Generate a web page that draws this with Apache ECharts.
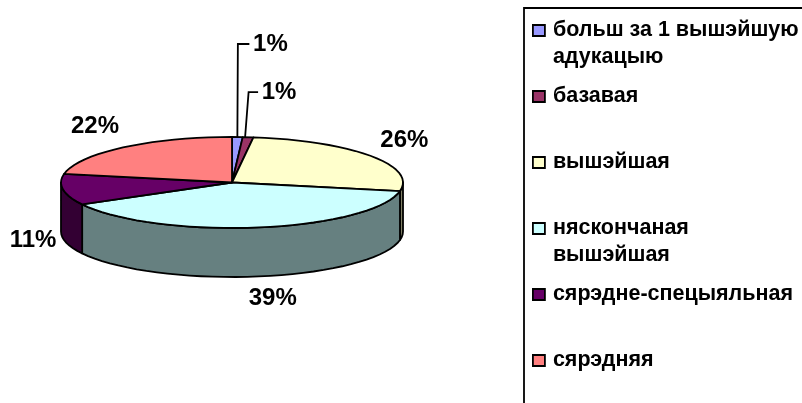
<!DOCTYPE html>
<html>
<head>
<meta charset="utf-8">
<title>Адукацыя</title>
<script src="https://cdn.jsdelivr.net/npm/echarts@6/dist/echarts.min.js"></script>
<style>
  html, body { margin: 0; padding: 0; background: #fff; overflow: hidden; }
  #chart { width: 802px; height: 403px; }
</style>
</head>
<body>
<div id="chart"></div>
<script>
// ----- data -----
const categories = [
    'больш за 1 вышэйшую\nадукацыю',
    'базавая',
    'вышэйшая',
    'няскончаная\nвышэйшая',
    'сярэдне-спецыяльная',
    'сярэдняя'
];
const shares = [1, 1, 26, 39, 11, 22];
const sliceColors = ['#9999FF', '#993366', '#FFFFCC', '#CCFFFF', '#660066', '#FF8080'];

// ----- geometry of the tilted disc -----
const cx = 232, cy = 182.5, rx = 171, ry = 45.5, depth = 49;
const total = shares.reduce((a, b) => a + b, 0);
const fontFamily = '"Liberation Sans", Arial, sans-serif';
// label offset from the rim point at the middle of each slice
const labelOffsets = [[33, -93], [31, -45], [34, -15], [14, 71], [-30, 51], [-28, -21]];
const hasLeader = [true, true, false, false, false, false];

// angle is clockwise from the top of the disc
function rimPoint(deg, drop) {
    const a = deg * Math.PI / 180;
    return [cx + rx * Math.sin(a), cy - ry * Math.cos(a) + (drop || 0)];
}

function arcPoints(from, to, drop) {
    const pts = [];
    const steps = Math.max(1, Math.ceil((to - from) / 4));
    for (let i = 0; i <= steps; i++) {
        pts.push(rimPoint(from + (to - from) * i / steps, drop));
    }
    return pts;
}

// side walls are the slice colour at half brightness
function wallColor(color) {
    const rgb = echarts.color.parse(color);
    return 'rgb(' + rgb.slice(0, 3).map(c => Math.round(c * 0.5)).join(',') + ')';
}

function renderSlice(index, params, api) {
    const before = shares.slice(0, index).reduce((a, b) => a + b, 0);
    const start = before / total * 360;
    const end = start + api.value(0) / total * 360;
    const mid = (start + end) / 2;
    const color = sliceColors[index];
    const children = [];

    // only the front half of the disc shows its wall
    const wallFrom = Math.max(start, 90);
    const wallTo = Math.min(end, 270);
    if (wallTo > wallFrom) {
        children.push({
            type: 'polygon',
            z2: 1,
            shape: { points: arcPoints(wallFrom, wallTo, 0).concat(arcPoints(wallFrom, wallTo, depth).reverse()) },
            style: { fill: wallColor(color), stroke: '#000', lineWidth: 1.8, lineJoin: 'round' }
        });
    }

    // top face
    children.push({
        type: 'polygon',
        z2: 10,
        shape: { points: [[cx, cy]].concat(arcPoints(start, end, 0)) },
        style: { fill: color, stroke: '#000', lineWidth: 1.8, lineJoin: 'round' }
    });

    // percent label
    const rim = rimPoint(mid, 0);
    const off = labelOffsets[index];
    const lx = rim[0] + off[0], ly = rim[1] + off[1];
    children.push({
        type: 'text',
        z2: 20,
        style: {
            x: lx, y: ly, text: api.value(0) + '%',
            fill: '#000', align: 'center', verticalAlign: 'middle',
            font: 'bold 24px ' + fontFamily
        }
    });

    if (hasLeader[index]) {
        children.push({
            type: 'polyline',
            z2: 12,
            shape: { points: [[rim[0] - index * 3, rim[1]], [rim[0] + 0.5, ly], [lx - 21, ly]] },
            style: { fill: 'none', stroke: '#000', lineWidth: 1.8 }
        });
    }
    return { type: 'group', children: children };
}

const chart = echarts.init(document.getElementById('chart'), null, { renderer: 'canvas' });

chart.setOption({
    animation: false,
    backgroundColor: '#fff',
    graphic: [{
        type: 'rect',
        z: 0,
        shape: { x: 524, y: 8, width: 400, height: 500 },
        style: { fill: 'none', stroke: '#000', lineWidth: 1.8 },
        silent: true
    }],
    legend: {
        orient: 'vertical',
        left: 532,
        top: -10,
        padding: 0,
        itemGap: -15,
        itemWidth: 12,
        itemHeight: 11,
        icon: 'rect',
        selectedMode: false,
        data: categories,
        itemStyle: { borderColor: '#000', borderWidth: 1.8 },
        textStyle: {
            color: '#000',
            fontFamily: fontFamily,
            fontWeight: 'bold',
            fontSize: 21.5,
            lineHeight: 27,
            padding: [0, 0, 0, 3]
        },
        // three text lines per item keep the marker level with the first one
        formatter: function (name) {
            const lines = name.split('\n');
            return '\n' + lines[0] + '\n' + (lines[1] || '');
        }
    },
    series: categories.map((name, i) => ({
        type: 'custom',
        name: name,
        coordinateSystem: 'none',
        silent: true,
        itemStyle: { color: sliceColors[i] },
        data: [[shares[i]]],
        renderItem: (params, api) => renderSlice(i, params, api)
    }))
});
</script>
</body>
</html>
